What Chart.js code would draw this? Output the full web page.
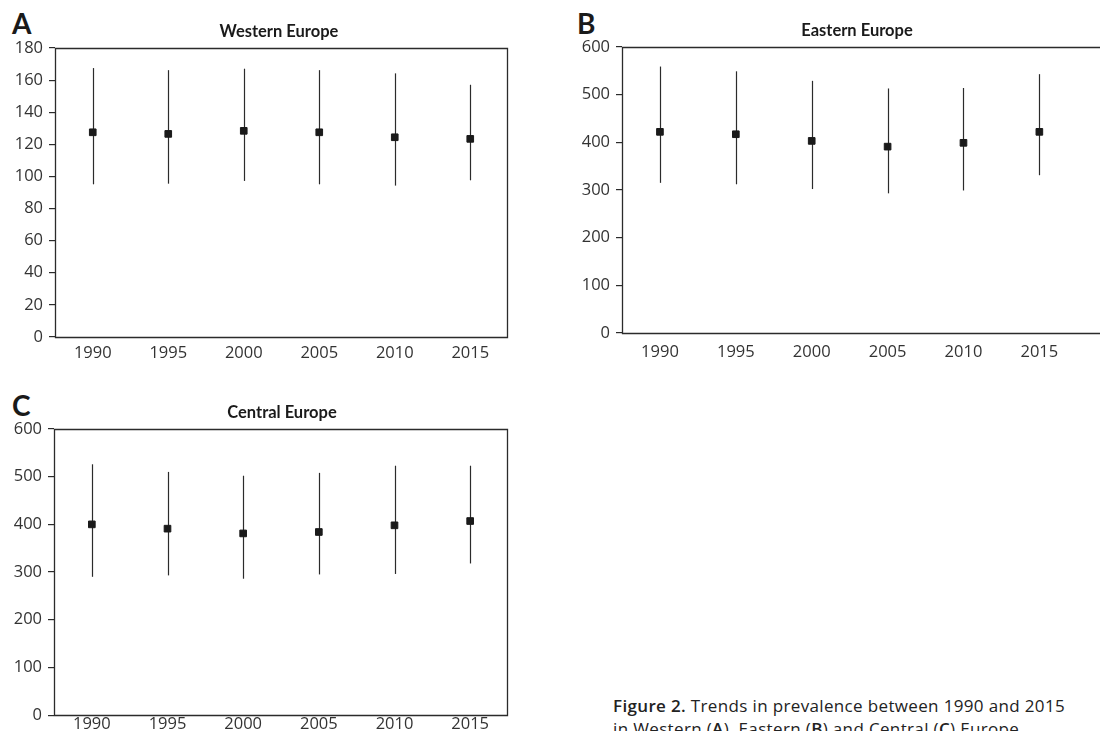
<!DOCTYPE html>
<html>
<head>
<meta charset="utf-8">
<script src="https://cdn.jsdelivr.net/npm/chart.js@4.4.1/dist/chart.umd.min.js"></script>
<style>
  html, body { margin: 0; padding: 0; background: #fff; }
  body { width: 1100px; height: 731px; position: relative; overflow: hidden; font-family: "Open Sans", Lato, sans-serif; color: #222; }
  .panel { position: absolute; }
  .letter { position: absolute; font-family: Lato, sans-serif; font-weight: 700; font-size: 28px; line-height: 28px; color: #1a1a1a; }
  .caption { position: absolute; left: 613px; top: 694px; font-family: "Open Sans", sans-serif; font-size: 17px; line-height: 23px; color: #222; white-space: nowrap; letter-spacing: 0.35px; }
  .caption b { font-weight: 600; }
</style>
</head>
<body>
<div class="letter" style="left:12px; top:9px;">A</div>
<div class="letter" style="left:577px; top:9px;">B</div>
<div class="letter" style="left:12px; top:391px;">C</div>

<div class="panel" style="left:0; top:0; width:560px; height:365px;"><canvas id="chartA"></canvas></div>
<div class="panel" style="left:560px; top:0; width:540px; height:365px;"><canvas id="chartB"></canvas></div>
<div class="panel" style="left:0; top:370px; width:560px; height:361px;"><canvas id="chartC"></canvas></div>

<div class="caption"><b>Figure 2.</b> Trends in prevalence between 1990 and 2015<br>in Western (<b>A</b>), Eastern (<b>B</b>) and Central (<b>C</b>) Europe</div>

<script>
// ---- data ----
const years = [1990, 1995, 2000, 2005, 2010, 2015];

const westMean = [127.5, 126.5, 128.4, 127.5, 124.4, 123.4];
const westLow  = [95.1, 95.5, 97.2, 95.1, 94.3, 97.6];
const westHigh = [167.5, 166.2, 167.1, 166.2, 164.2, 157.1];

const eastMean = [422, 417, 403, 391, 399, 422];
const eastLow  = [315, 312, 302, 293, 299, 331];
const eastHigh = [559, 549, 529, 513, 514, 543];

const centralMean = [400, 391, 381, 384, 398, 407];
const centralLow  = [290, 293, 286, 295, 296, 318];
const centralHigh = [526, 510, 502, 508, 523, 523];

const westTicks = [0, 20, 40, 60, 80, 100, 120, 140, 160, 180];
const eastTicks = [0, 100, 200, 300, 400, 500, 600];
const centralTicks = [0, 100, 200, 300, 400, 500, 600];

const titles = ['Western Europe', 'Eastern Europe', 'Central Europe'];

// ---- drawing helpers ----
const INK = '#2b2b2b';
const TICKFONT = '"Open Sans", Lato, sans-serif';
const TITLEFONT = 'Lato, "Open Sans", sans-serif';

const errorBarPlugin = {
  id: 'errorBars',
  beforeDatasetsDraw(chart, args, opts) {
    const ctx = chart.ctx, xs = chart.scales.x, ys = chart.scales.y;
    ctx.save();
    ctx.strokeStyle = INK;
    ctx.lineWidth = 1.2;
    opts.low.forEach((lo, i) => {
      const x = Math.round(xs.getPixelForValue(years[i])) + 0.5;
      ctx.beginPath();
      ctx.moveTo(x, ys.getPixelForValue(lo));
      ctx.lineTo(x, ys.getPixelForValue(opts.high[i]));
      ctx.stroke();
    });
    ctx.restore();
  }
};

const framePlugin = {
  id: 'frame',
  beforeDatasetsDraw(chart, args, opts) {
    const ctx = chart.ctx, a = chart.chartArea;
    ctx.save();
    ctx.strokeStyle = INK;
    ctx.lineWidth = 1.3;
    const L = Math.round(a.left) + 0.5, T = Math.round(a.top) + 0.5, B = Math.round(a.bottom) + 0.5, R = Math.round(a.right) - 0.5;
    ctx.beginPath();
    if (opts.open) {
      ctx.moveTo(chart.width, T); ctx.lineTo(L, T); ctx.lineTo(L, B); ctx.lineTo(chart.width, B);
    } else {
      ctx.moveTo(L, T); ctx.lineTo(R, T); ctx.lineTo(R, B); ctx.lineTo(L, B); ctx.closePath();
    }
    ctx.stroke();
    ctx.restore();
  }
};

const titlePlugin = {
  id: 'panelTitle',
  afterDraw(chart, args, opts) {
    const ctx = chart.ctx;
    ctx.save();
    ctx.font = '700 16.5px ' + TITLEFONT;
    ctx.fillStyle = '#1a1a1a';
    ctx.textAlign = 'center';
    ctx.textBaseline = 'alphabetic';
    ctx.fillText(opts.text, opts.x, chart.chartArea.top - 11);
    ctx.restore();
  }
};

function makePanel(id, cfg) {
  return new Chart(document.getElementById(id), {
    type: 'line',
    data: {
      datasets: [{
        data: years.map((y, i) => ({ x: y, y: cfg.mean[i] })),
        showLine: false,
        pointStyle: 'rect',
        pointRadius: 4.7,
        pointHoverRadius: 4.7,
        pointBackgroundColor: '#1a1a1a',
        pointBorderColor: '#1a1a1a',
        pointBorderWidth: 1
      }]
    },
    options: {
      responsive: true,
      maintainAspectRatio: false,
      animation: false,
      events: [],
      layout: { padding: { top: cfg.padTop, right: cfg.padRight, bottom: 0, left: 0 } },
      plugins: {
        legend: { display: false },
        tooltip: { enabled: false },
        title: { display: false },
        errorBars: { low: cfg.low, high: cfg.high },
        frame: { open: cfg.open },
        panelTitle: { text: cfg.title, x: cfg.titleX }
      },
      scales: {
        x: {
          type: 'linear',
          min: cfg.xMin,
          max: cfg.xMax,
          afterBuildTicks: (s) => { s.ticks = years.map(v => ({ value: v })); },
          afterFit: (s) => { s.height = cfg.xHeight; },
          grid: { display: false, drawTicks: false },
          border: { display: false },
          ticks: {
            autoSkip: false,
            maxRotation: 0,
            padding: cfg.xPad,
            color: '#333',
            font: { family: TICKFONT, size: 16.5 },
            callback: (v) => String(v)
          }
        },
        y: {
          min: 0,
          max: cfg.ticks[cfg.ticks.length - 1],
          afterBuildTicks: (s) => { s.ticks = cfg.ticks.map(v => ({ value: v })); },
          afterFit: (s) => { s.width = cfg.yWidth; },
          grid: { display: true, drawOnChartArea: false, drawTicks: true, tickLength: 6, color: INK, lineWidth: 1.2 },
          border: { display: false },
          ticks: {
            padding: 6,
            color: '#333',
            font: { family: TICKFONT, size: 16.5 },
            callback: (v) => String(v)
          }
        }
      }
    },
    plugins: [framePlugin, errorBarPlugin, titlePlugin]
  });
}

makePanel('chartA', {
  mean: westMean, low: westLow, high: westHigh, ticks: westTicks,
  title: titles[0], titleX: 279,
  padTop: 48, padRight: 52, yWidth: 55, xHeight: 28, xPad: 6,
  xMin: 1987.5, xMax: 2017.5, open: false
});
makePanel('chartB', {
  mean: eastMean, low: eastLow, high: eastHigh, ticks: eastTicks,
  title: titles[1], titleX: 297,
  padTop: 47, padRight: 0, yWidth: 62, xHeight: 32, xPad: 9,
  xMin: 1987.5, xMax: 2018.62, open: true
});
makePanel('chartC', {
  mean: centralMean, low: centralLow, high: centralHigh, ticks: centralTicks,
  title: titles[2], titleX: 282,
  padTop: 59, padRight: 52, yWidth: 54, xHeight: 14, xPad: -1,
  xMin: 1987.5, xMax: 2017.5, open: false
});
</script>
</body>
</html>
